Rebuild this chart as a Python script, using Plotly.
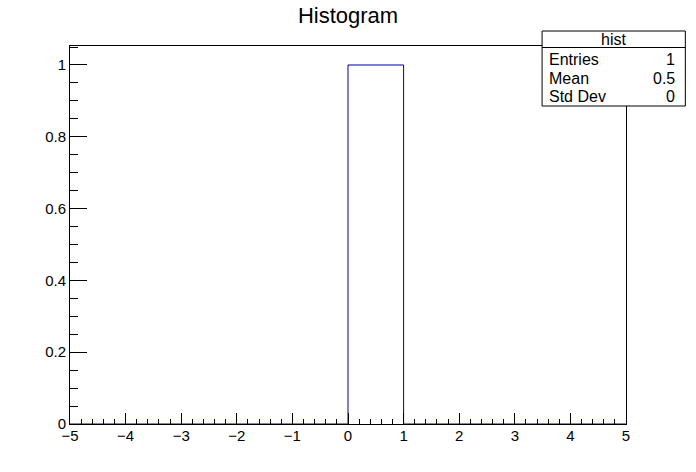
import plotly.graph_objects as go

# Data
bin_edges = [-5, -4, -3, -2, -1, 0, 1, 2, 3, 4, 5]
bin_counts = [0, 0, 0, 0, 0, 1, 0, 0, 0, 0]
stats_title = "hist"
stats_labels = ["Entries", "Mean", "Std Dev"]
stats_values = ["1", "0.5", "0"]

W, H = 696, 472
L, R, T, B = 69.7, 626.3, 46, 424
PW, PH = R - L, B - T

def px(x):
    return (x - L) / PW

def py(y):
    return (B - y) / PH

FONT = "Liberation Sans, Arial, Helvetica, sans-serif"

xs = list(bin_edges)
ys = list(bin_counts) + [bin_counts[-1]]

fig = go.Figure()
fig.add_trace(go.Scatter(
    x=xs, y=ys, mode="lines", line=dict(shape="hv", color="#000099", width=1),
    hoverinfo="skip", showlegend=False,
))

shapes = []
annotations = []
# stats box
bx0, bx1, by0, by1 = 542.3, 685.7, 31, 106
hy = 47.5
shapes.append(dict(type="rect", xref="paper", yref="paper",
                   x0=px(bx0), x1=px(bx1), y0=py(by1), y1=py(by0),
                   line=dict(color="black", width=1), fillcolor="white", layer="above"))
shapes.append(dict(type="line", xref="paper", yref="paper",
                   x0=px(bx0), x1=px(bx1), y0=py(hy), y1=py(hy),
                   line=dict(color="black", width=1), layer="above"))
annotations.append(dict(text=stats_title, xref="paper", yref="paper",
                        x=px((bx0 + bx1) / 2), y=py(39.5), xanchor="center", yanchor="middle",
                        showarrow=False, font=dict(family=FONT, size=16, color="black")))
row_y = [59.5, 78, 96.5]
for lab, val, ry in zip(stats_labels, stats_values, row_y):
    annotations.append(dict(text=lab, xref="paper", yref="paper",
                            x=px(bx0 + 5), y=py(ry), xanchor="left", yanchor="middle",
                            showarrow=False, font=dict(family=FONT, size=16, color="black")))
    annotations.append(dict(text=val, xref="paper", yref="paper",
                            x=px(bx1 - 8), y=py(ry), xanchor="right", yanchor="middle",
                            showarrow=False, font=dict(family=FONT, size=16, color="black")))

fig.update_layout(
    width=W, height=H,
    margin=dict(l=L, r=W - R, t=T, b=H - B, pad=0),
    paper_bgcolor="white", plot_bgcolor="white",
    hovermode=False,
    title=dict(text="Histogram", x=0.5, xref="paper", y=1 - 15 / H, yref="container",
               xanchor="center", yanchor="middle",
               font=dict(family=FONT, size=22, color="black")),
    font=dict(family=FONT, size=15, color="black"),
    shapes=shapes, annotations=annotations,
    xaxis=dict(range=[-5, 5], showgrid=False, zeroline=False,
               showline=True, linecolor="black", linewidth=1, mirror=True,
               ticks="inside", ticklen=11, tickcolor="black", tickwidth=1,
               dtick=1, tick0=-5, tickfont=dict(family=FONT, size=15),
               ticklabelstandoff=-2,
               minor=dict(ticks="inside", ticklen=5, dtick=0.2, tick0=-5,
                          tickcolor="black", showgrid=False)),
    yaxis=dict(range=[0, 1.0529], showgrid=False, zeroline=False,
               showline=True, linecolor="black", linewidth=1, mirror=True,
               ticks="inside", ticklen=17, tickcolor="black", tickwidth=1,
               dtick=0.2, tick0=0, tickfont=dict(family=FONT, size=15),
               minor=dict(ticks="inside", ticklen=8, dtick=0.05, tick0=0,
                          tickcolor="black", showgrid=False)),
)

fig.write_html("out.html",
               config={"displayModeBar": False, "staticPlot": True},
               post_script="document.body.style.margin='0';document.body.style.padding='0';")
